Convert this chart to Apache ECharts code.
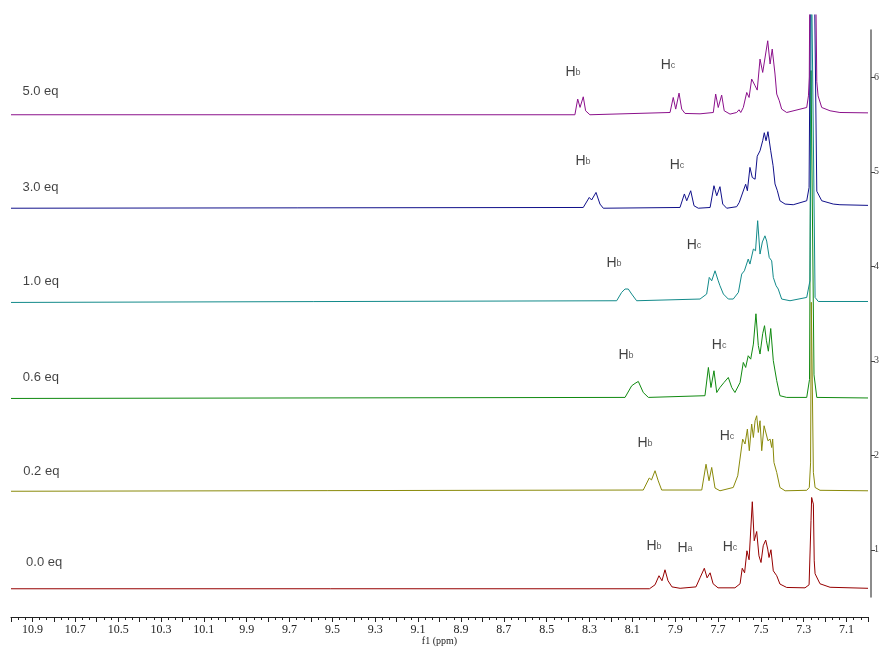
<!DOCTYPE html>
<html>
<head>
<meta charset="utf-8">
<script src="https://cdn.jsdelivr.net/npm/echarts@6/dist/echarts.min.js"></script>
<style>
html,body{margin:0;padding:0;background:#fff;overflow:hidden;}
#chart{width:888px;height:649px;}
</style>
</head>
<body>
<div id="chart"></div>
<script>
// ---- data: [ppm, intensity above the spectrum's own baseline] ----
const spec00 = [[11.0,0],[8.02,0],[7.994,0.042],[7.9755,0.138],[7.9615,0.085],[7.9475,0.201],[7.9335,0.085],[7.915,0.02],[7.877,0.005],[7.803,0.02],[7.784,0.116],[7.775,0.106],[7.764,0.217],[7.751,0.116],[7.737,0.169],[7.723,0.053],[7.700,0.01],[7.621,0.01],[7.597,0.053],[7.587,0.217],[7.576,0.169],[7.565,0.402],[7.555,0.307],[7.540,0.921],[7.531,0.508],[7.5195,0.606],[7.509,0.349],[7.4994,0.278],[7.489,0.455],[7.4775,0.515],[7.468,0.42],[7.462,0.331],[7.453,0.413],[7.442,0.19],[7.426,0.138],[7.411,0.05],[7.3795,0.014],[7.294,0.01],[7.275,0.042],[7.266,0.72],[7.263,0.966],[7.259,0.93],[7.255,0.896],[7.251,0.296],[7.247,0.159],[7.224,0.053],[7.177,0.016],[7.0,0.005]];
const spec02 = [[11.0,0],[8.049,0.013],[8.021,0.14],[8.0105,0.12],[7.994,0.217],[7.979,0.11],[7.963,0.013],[7.776,0.013],[7.756,0.286],[7.742,0.111],[7.7295,0.252],[7.714,0.034],[7.691,0.005],[7.629,0.04],[7.608,0.164],[7.585,0.552],[7.574,0.5],[7.563,0.658],[7.554,0.429],[7.543,0.711],[7.535,0.569],[7.527,0.746],[7.5195,0.799],[7.512,0.622],[7.504,0.746],[7.496,0.429],[7.485,0.693],[7.476,0.711],[7.467,0.534],[7.457,0.552],[7.4495,0.463],[7.445,0.552],[7.439,0.305],[7.426,0.199],[7.411,0.04],[7.387,0.005],[7.286,0.01],[7.274,0.04],[7.268,0.3],[7.2646,2.0],[7.26,2.0],[7.255,0.2],[7.247,0.04],[7.224,0.01],[7.0,0.005]];
const spec06 = [[11.0,0],[8.134,0.011],[8.103,0.134],[8.0875,0.159],[8.072,0.18],[8.049,0.063],[8.025,0.011],[7.761,0.029],[7.745,0.328],[7.733,0.116],[7.719,0.293],[7.706,0.063],[7.691,0.116],[7.672,0.169],[7.652,0.222],[7.636,0.116],[7.621,0.063],[7.597,0.169],[7.582,0.381],[7.571,0.328],[7.559,0.452],[7.5475,0.416],[7.535,0.575],[7.523,0.896],[7.512,0.56],[7.504,0.47],[7.4915,0.685],[7.483,0.77],[7.474,0.61],[7.465,0.5],[7.454,0.74],[7.442,0.4],[7.426,0.188],[7.411,0.029],[7.3795,0.011],[7.286,0.011],[7.273,0.2],[7.266,3.47],[7.259,3.47],[7.252,0.25],[7.239,0.011],[7.0,0.005]];
const spec10 = [[11.0,0],[8.173,0.018],[8.150,0.106],[8.134,0.142],[8.119,0.142],[8.103,0.089],[8.080,0.018],[7.784,0.036],[7.753,0.089],[7.741,0.265],[7.7295,0.229],[7.714,0.335],[7.699,0.229],[7.691,0.177],[7.675,0.089],[7.652,0.036],[7.629,0.036],[7.605,0.106],[7.5895,0.3],[7.577,0.335],[7.559,0.459],[7.551,0.406],[7.535,0.565],[7.525,0.547],[7.515,0.865],[7.504,0.512],[7.493,0.64],[7.481,0.705],[7.473,0.65],[7.461,0.476],[7.4495,0.44],[7.442,0.265],[7.429,0.177],[7.419,0.142],[7.403,0.036],[7.364,0.018],[7.286,0.053],[7.271,0.229],[7.264,3.6],[7.257,3.6],[7.247,0.053],[7.232,0.01],[7.0,0.01]];
const spec30 = [[11.0,0],[8.329,0.008],[8.301,0.114],[8.290,0.087],[8.2695,0.167],[8.251,0.044],[8.2355,0],[7.8775,0.008],[7.857,0.151],[7.846,0.079],[7.8275,0.185],[7.812,0.026],[7.792,0],[7.737,0.008],[7.719,0.238],[7.706,0.132],[7.691,0.228],[7.678,0.044],[7.6595,0],[7.613,0.016],[7.601,0.061],[7.579,0.203],[7.571,0.254],[7.563,0.185],[7.551,0.432],[7.540,0.325],[7.527,0.307],[7.517,0.55],[7.504,0.608],[7.4915,0.714],[7.484,0.799],[7.476,0.714],[7.467,0.81],[7.454,0.608],[7.443,0.45],[7.434,0.257],[7.423,0.185],[7.411,0.079],[7.387,0.044],[7.349,0.037],[7.286,0.079],[7.275,0.22],[7.268,2.6],[7.251,2.6],[7.239,0.18],[7.216,0.079],[7.162,0.044],[7.131,0.037],[7.0,0.03]];
const spec50 = [[11.0,0],[8.368,0],[8.355,0.166],[8.344,0.078],[8.329,0.19],[8.318,0.042],[8.298,0],[7.924,0.024],[7.909,0.183],[7.8975,0.06],[7.882,0.229],[7.8695,0.06],[7.854,0.014],[7.784,0.01],[7.722,0.024],[7.711,0.219],[7.699,0.077],[7.683,0.208],[7.671,0.042],[7.644,0.007],[7.613,0.024],[7.602,0.053],[7.594,0.024],[7.582,0.077],[7.566,0.236],[7.555,0.183],[7.543,0.378],[7.527,0.307],[7.517,0.261],[7.504,0.589],[7.4915,0.448],[7.468,0.783],[7.457,0.537],[7.447,0.695],[7.434,0.431],[7.426,0.219],[7.414,0.148],[7.403,0.06],[7.3795,0.024],[7.286,0.077],[7.278,0.2],[7.274,0.4],[7.271,1.6],[7.245,1.6],[7.239,0.35],[7.233,0.2],[7.216,0.077],[7.177,0.042],[7.131,0.024],[7.0,0.02]];

const spectra = [spec00, spec02, spec06, spec10, spec30, spec50];
const stackOffsets = [0.587, 1.619, 2.601, 3.617, 4.614, 5.603];
const seriesColors = ['#960000', '#8a8a0a', '#108a10', '#128a8a', '#10108a', '#8b108b'];

const eqText = ['0.0 eq', '0.2 eq', '0.6 eq', '1.0 eq', '3.0 eq', '5.0 eq'];
const eqPpm = [10.93, 10.943, 10.945, 10.945, 10.947, 10.947];
const eqVal = [0.862, 1.825, 2.820, 3.836, 4.831, 5.847];

const annPpm = [8.377, 7.9335, 8.330, 7.8915, 8.1855, 7.812, 8.1295, 7.695, 8.041, 7.658, 7.999, 7.854, 7.644];
const annVal = [6.058, 6.132, 5.116, 5.074, 4.037, 4.228, 3.063, 3.169, 2.132, 2.206, 1.042, 1.021, 1.032];
const annSub = ['b', 'c', 'b', 'c', 'b', 'c', 'b', 'c', 'b', 'c', 'b', 'a', 'c'];

const yTicks = [1, 2, 3, 4, 5, 6];

// ---- chart ----
const chart = echarts.init(document.getElementById('chart'), null, {renderer: 'canvas', width: 888, height: 649});

const lineSeries = spectra.map((s, i) => ({
  type: 'line',
  xAxisIndex: 1, yAxisIndex: 1,
  data: s.map(p => [p[0], stackOffsets[i] + p[1]]),
  showSymbol: false,
  symbol: 'none',
  clip: true,
  silent: true,
  lineStyle: {width: 1, color: seriesColors[i]},
  itemStyle: {color: seriesColors[i]},
  z: 2 + i
}));

const eqSeries = {
  type: 'scatter',
  xAxisIndex: 1, yAxisIndex: 1,
  silent: true,
  symbolSize: 0.1,
  itemStyle: {color: 'rgba(0,0,0,0)'},
  data: eqPpm.map((p, i) => ({value: [p, eqVal[i]], name: eqText[i]})),
  label: {
    show: true, position: 'right', distance: 0,
    formatter: p => p.name,
    fontFamily: 'Liberation Sans, Arial, sans-serif', fontSize: 13, color: '#111'
  },
  z: 20
};

const annSeries = {
  type: 'scatter',
  xAxisIndex: 1, yAxisIndex: 1,
  silent: true,
  symbolSize: 0.1,
  itemStyle: {color: 'rgba(0,0,0,0)'},
  data: annPpm.map((p, i) => ({value: [p, annVal[i]], sub: annSub[i]})),
  label: {
    show: true, position: 'inside',
    formatter: p => '{h|H}{s|' + p.data.sub + '}',
    rich: {
      h: {fontFamily: 'Liberation Sans, Arial, sans-serif', fontSize: 14, color: '#111'},
      s: {fontFamily: 'Liberation Sans, Arial, sans-serif', fontSize: 9, color: '#333', padding: [2, 0, 0, 0]}
    }
  },
  z: 20
};

const option = {
  animation: false,
  backgroundColor: '#fff',
  grid: [
    {left: 11, right: 20, top: 30, height: 567, containLabel: false, outerBoundsMode: 'none'},
    {left: 11, right: 20, top: 15, height: 582, containLabel: false, outerBoundsMode: 'none'}
  ],
  xAxis: [{
    gridIndex: 0,
    type: 'value', min: 7.0, max: 11.0, interval: 0.1, inverse: true, offset: 20,
    axisLine: {show: true, onZero: false, lineStyle: {color: '#222', width: 1}},
    axisTick: {show: true, length: 5, lineStyle: {color: '#222', width: 1}},
    minorTick: {show: true, splitNumber: 3, length: 3, lineStyle: {color: '#222', width: 1}},
    splitLine: {show: false},
    axisLabel: {
      margin: 7, fontFamily: 'Liberation Serif, serif', fontSize: 12, color: '#222',
      formatter: v => (Math.round(v * 10) % 2 === 1 ? (Math.round(v * 10) / 10).toFixed(1) : '')
    },
    name: 'f1 (ppm)', nameLocation: 'middle', nameGap: 19, nameMoveOverlap: false,
    nameTextStyle: {fontFamily: 'Liberation Serif, serif', fontSize: 10, color: '#222'}
  }, {
    gridIndex: 1,
    type: 'value', min: 7.0, max: 11.0, inverse: true, show: false
  }],
  yAxis: [{
    gridIndex: 0,
    type: 'value', position: 'right', min: 0.5, max: 6.5, offset: 3,
    axisLine: {show: true, lineStyle: {color: '#666', width: 1.5}},
    axisTick: {show: true, inside: false, length: 4, customValues: yTicks, lineStyle: {color: '#444'}},
    axisLabel: {show: true, margin: 3, customValues: yTicks, fontFamily: 'Liberation Serif, serif', fontSize: 10, color: '#444'},
    splitLine: {show: false}
  }, {
    gridIndex: 1,
    type: 'value', min: 0.5, max: 6.6587, show: false
  }],
  series: lineSeries.concat([eqSeries, annSeries])
};

chart.setOption(option);
</script>
</body>
</html>
